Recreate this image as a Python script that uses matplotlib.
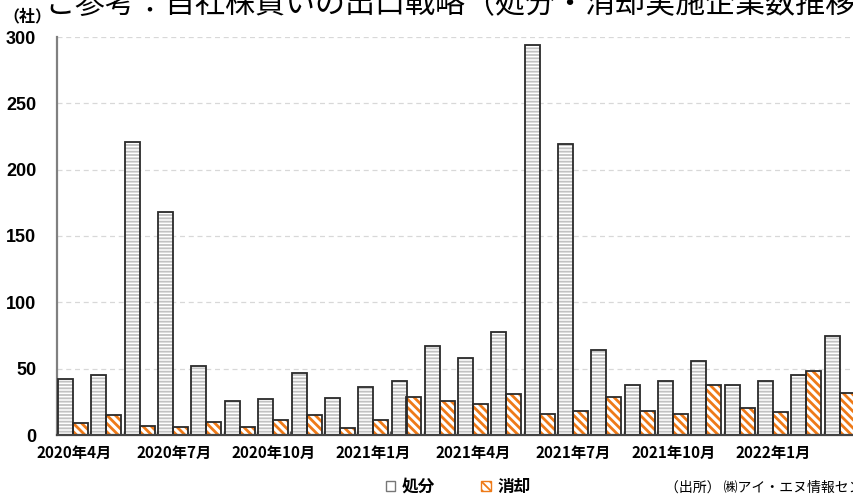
import matplotlib
matplotlib.use("Agg")
import matplotlib.pyplot as plt
from matplotlib.patches import Patch
import numpy as np

plt.rcParams['font.family'] = ['Noto Sans CJK JP', 'DejaVu Sans']
plt.rcParams['hatch.linewidth'] = 1.3

months = ["2020年4月", "2020年5月", "2020年6月", "2020年7月", "2020年8月", "2020年9月",
          "2020年10月", "2020年11月", "2020年12月", "2021年1月", "2021年2月", "2021年3月",
          "2021年4月", "2021年5月", "2021年6月", "2021年7月", "2021年8月", "2021年9月",
          "2021年10月", "2021年11月", "2021年12月", "2022年1月", "2022年2月", "2022年3月"]
shobun = [42, 45, 221, 168, 52, 26, 27, 47, 28, 36, 41, 67,
          58, 78, 294, 219, 64, 38, 41, 56, 38, 41, 45, 75]
shokyaku = [9, 15, 7, 6, 10, 6, 11, 15, 5, 11, 29, 26,
            23, 31, 16, 18, 29, 18, 16, 38, 20, 17, 48, 32]
tick_every = 3
yticks = [0, 50, 100, 150, 200, 250, 300]

GRAY_H = '#c2c2c2'
ORANGE = '#ee7a18'
EDGE = '#2a2a2a'

W, H = 854, 498
fig = plt.figure(figsize=(W / 100, H / 100), dpi=100)
ax = fig.add_axes([57 / W, 1 - 435 / H, 800 / W, 398 / H])

x = np.arange(len(months))
bw = 0.45
# 処分: white with gray horizontal stripes
h1 = ax.bar(x - 0.465, shobun, width=bw, align='edge', facecolor='white',
            edgecolor=GRAY_H, hatch='-----', linewidth=0, zorder=3)
ax.bar(x - 0.465, shobun, width=bw, align='edge', facecolor='none',
       edgecolor=EDGE, linewidth=1.3, zorder=4)
# 消却: orange diagonal stripes
h2 = ax.bar(x - 0.015, shokyaku, width=bw, align='edge', facecolor='white',
            edgecolor=ORANGE, hatch='\\\\\\\\', linewidth=0, zorder=3)
ax.bar(x - 0.015, shokyaku, width=bw, align='edge', facecolor='none',
       edgecolor=EDGE, linewidth=1.3, zorder=4)
for bars, lw in ((h1, 1.3), (h2, 2.0)):
    for p in bars:
        if hasattr(p, 'set_hatch_linewidth'):
            p.set_hatch_linewidth(lw)

ax.set_xlim(-0.5, len(months) - 0.5)
ax.set_ylim(0, 300)
ax.set_yticks(yticks)
ax.set_yticklabels([str(v) for v in yticks], fontsize=13, fontweight='bold',
                   family=['Liberation Sans', 'DejaVu Sans'])
ax.tick_params(axis='y', length=0, pad=15)
ax.yaxis.grid(True, color='#d8d8d8', linestyle=(0, (4, 3)), linewidth=0.9)
ax.set_axisbelow(True)

ax.set_xticks(x[::tick_every])
ax.set_xticklabels(months[::tick_every], fontsize=11, fontweight='bold')
ax.tick_params(axis='x', length=0, pad=7)
ax.set_xticks(np.arange(len(months) + 1) - 0.5, minor=True)
ax.tick_params(axis='x', which='minor', length=3, width=1, color='#555555', direction='in')

for s in ['top', 'right']:
    ax.spines[s].set_visible(False)
ax.spines['left'].set_color('#808080')
ax.spines['left'].set_linewidth(1.6)
ax.spines['bottom'].set_color('#444444')
ax.spines['bottom'].set_linewidth(1.6)
ax.spines['bottom'].set_zorder(5)

fig.text(45 / W, 1 - 13 / H, "ご参考：自社株買いの出口戦略（処分・消却実施企業数推移",
         fontsize=21.6, va='baseline', ha='left')
fig.text(3 / W, 1 - 16 / H, "（社）", fontsize=11.5, fontweight='bold', va='center', ha='left')

leg_handles = [Patch(facecolor='white', edgecolor='#777777', linewidth=1.0),
               Patch(facecolor='white', edgecolor=ORANGE, hatch='\\\\\\\\', linewidth=1.0)]
fig.legend(handles=leg_handles, labels=['処分', '消却'], loc='center',
           bbox_to_anchor=(458 / W, 1 - 487 / H), ncol=2, frameon=False,
           handlelength=0.55, handleheight=0.55, handletextpad=0.4,
           columnspacing=2.8, prop={'weight': 'bold', 'size': 12})
fig.text(665 / W, 1 - 488 / H, "（出所） ㈱アイ・エヌ情報センター", fontsize=10,
         va='center', ha='left')

fig.savefig("out.png", dpi=100)
